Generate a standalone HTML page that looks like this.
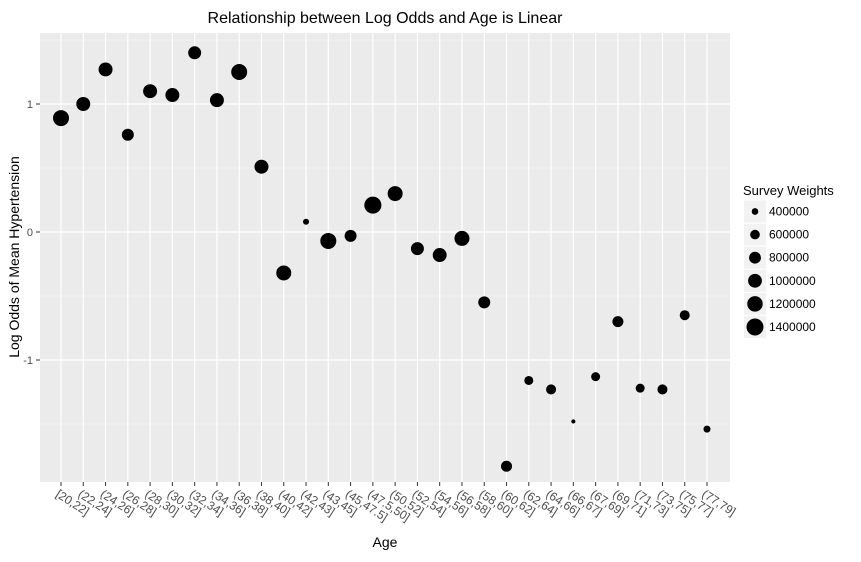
<!DOCTYPE html>
<html><head><meta charset="utf-8"><style>
body{margin:0;background:#fff;}
svg text{font-family:"Liberation Sans",Arial,sans-serif;}
</style></head><body>
<svg id="chart" width="861" height="557" xmlns="http://www.w3.org/2000/svg">
<rect x="0" y="0" width="861" height="557" fill="#fff"/>
<rect x="40" y="33" width="690" height="449" fill="#ebebeb"/>
<g id="grid"></g>
<g id="points"></g>
<g id="xaxis"></g>
<g id="yaxis"></g>
<text x="385" y="23" text-anchor="middle" font-size="16" fill="#000">Relationship between Log Odds and Age is Linear</text>
<text x="385" y="547" text-anchor="middle" font-size="14" fill="#000">Age</text>
<text transform="translate(19,257) rotate(-90)" text-anchor="middle" font-size="14" fill="#000">Log Odds of Mean Hypertension</text>
<g id="legend">
<text x="743" y="195" font-size="13" fill="#000">Survey Weights</text>
</g>
</svg>
<script>
const categories=["[20,22]","(22,24]","(24,26]","(26,28]","(28,30]","(30,32]","(32,34]","(34,36]","(36,38]","(38,40]","(40,42]","(42,43]","(43,45]","(45,47.5]","(47.5,50]","(50,52]","(52,54]","(54,56]","(56,58]","(58,60]","(60,62]","(62,64]","(64,66]","(66,67]","(67,69]","(69,71]","(71,73]","(73,75]","(75,77]","(77,79]"];
const logOdds=[0.89,1.0,1.27,0.76,1.10,1.07,1.40,1.03,1.25,0.51,-0.32,0.08,-0.07,-0.03,0.21,0.30,-0.13,-0.18,-0.05,-0.55,-1.83,-1.16,-1.23,-1.48,-1.13,-0.70,-1.22,-1.23,-0.65,-1.54];
const weights=[1270000,1020000,1020000,810000,1020000,1020000,910000,1020000,1270000,1020000,1140000,370000,1270000,810000,1420000,1140000,910000,1020000,1140000,810000,720000,550000,630000,290000,550000,720000,550000,630000,630000,420000];
const yTicks=[-1,0,1];
const legendValues=[400000,600000,800000,1000000,1200000,1400000];
const NS="http://www.w3.org/2000/svg";
function xS(i){return 61+i*(707-61)/(categories.length-1);}
function yS(v){return 232-v*128;}
function rS(w){return Math.sqrt(Math.max(3,-13.4+61e-6*w));}
function mk(tag,attrs,parent){const e=document.createElementNS(NS,tag);for(const k in attrs)e.setAttribute(k,attrs[k]);parent.appendChild(e);return e;}
const grid=document.getElementById('grid');
[-1.5,-0.5,0.5,1.5].forEach(v=>{const l=mk('line',{x1:40,x2:730,y1:yS(v),y2:yS(v),stroke:'#f5f5f5','stroke-width':0.6},grid);

});
yTicks.forEach(v=>{const l=mk('line',{x1:40,x2:730,y1:yS(v),y2:yS(v),stroke:'#fff','stroke-width':1.2},grid);

});
categories.forEach((c,i)=>{const l=mk('line',{x1:xS(i),x2:xS(i),y1:33,y2:482,stroke:'#fff','stroke-width':1.2},grid);

});
const pts=document.getElementById('points');
logOdds.forEach((v,i)=>{const c=mk('circle',{cx:xS(i),cy:yS(v),r:rS(weights[i]),fill:'#000'},pts);

});
const xa=document.getElementById('xaxis');
categories.forEach((c,i)=>{mk('line',{x1:xS(i),x2:xS(i),y1:482,y2:486,stroke:'#333'},xa);
const t=mk('text',{transform:`translate(${xS(i)-6},${496}) rotate(33)`,'font-size':12,fill:'#4d4d4d'},xa);t.textContent=c;

});
const ya=document.getElementById('yaxis');
yTicks.forEach(v=>{mk('line',{x1:36,x2:40,y1:yS(v),y2:yS(v),stroke:'#333'},ya);
const t=mk('text',{x:33,y:yS(v)+4,'text-anchor':'end','font-size':11,fill:'#4d4d4d'},ya);t.textContent=v;

});
const lg=document.getElementById('legend');
legendValues.forEach((w,i)=>{const cy=211.5+i*23.1;
mk('rect',{x:744,y:cy-11,width:22,height:22,fill:'#f2f2f2'},lg);
const c=mk('circle',{cx:755,cy:cy,r:rS(w),fill:'#000'},lg);


const t=mk('text',{x:769,y:cy+4,'font-size':12,fill:'#000'},lg);t.textContent=w;

});
</script>
</body></html>
